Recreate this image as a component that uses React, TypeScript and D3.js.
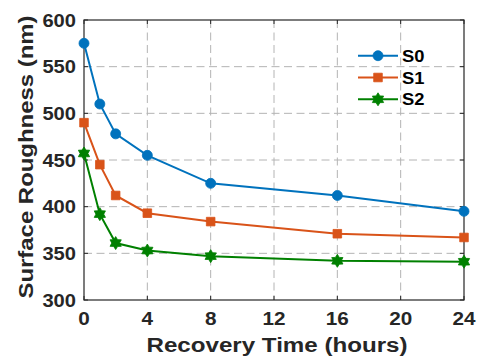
import React, { useEffect, useRef } from 'react';
import * as d3 from 'd3';

const hours = [0, 1, 2, 4, 8, 16, 24];
const s0 = [575, 510, 478, 455, 425, 412, 395];
const s1 = [490, 445, 412, 393, 384, 371, 367];
const s2 = [457, 392, 361, 353, 347, 342, 341];
const seriesNames = ['S0', 'S1', 'S2'];
const xTicks = [0, 4, 8, 12, 16, 20, 24];
const yTicks = [300, 350, 400, 450, 500, 550, 600];

const COLORS = ['#0072BD', '#D95319', '#008000'];
const SHAPES = ['circle', 'square', 'star'];
const FONT = 'Arial, "Liberation Sans", Helvetica, sans-serif';
const WIDEN = 1.15;

function markerPath(shape: string, size: number) {
  if (shape === 'circle') return d3.symbol(d3.symbolCircle, Math.PI * (size / 2) ** 2)()!;
  if (shape === 'square') return d3.symbol(d3.symbolSquare, size * size)()!;
  // six-pointed star (hexagram)
  const pts: [number, number][] = [];
  const R = size / 2, r = R * 0.6;
  for (let i = 0; i < 12; i++) {
    const a = (Math.PI / 6) * i - Math.PI / 2;
    const rr = i % 2 === 0 ? R : r;
    pts.push([rr * Math.cos(a), rr * Math.sin(a)]);
  }
  return 'M' + pts.map(p => p.join(',')).join('L') + 'Z';
}

export default function App() {
  const ref = useRef<SVGGElement>(null);

  useEffect(() => {
    const root = d3.select(ref.current);
    root.selectAll('*').remove();

    const margin = { top: 20, right: 15, bottom: 56, left: 84 };
    const W = 479, H = 356;
    const width = W - margin.left - margin.right;
    const height = H - margin.top - margin.bottom;
    const ink = '#262626';

    // bold text, stretched a little along its baseline like the original render
    const label = (parent: any, tx: number, ty: number, size: number, anchor: string, rot = 0, sx = WIDEN) =>
      parent.append('text')
        .attr('transform', `translate(${tx},${ty})${rot ? ` rotate(${rot})` : ''} scale(${sx},1)`)
        .attr('text-anchor', anchor)
        .style('font-family', FONT).style('font-weight', '700')
        .style('font-size', `${size}px`).style('fill', ink);

    const x = d3.scaleLinear().domain([0, 24]).range([0, width]);
    const y = d3.scaleLinear().domain([300, 600]).range([height, 0]);

    const g = root.append('g').attr('transform', `translate(${margin.left},${margin.top})`);

    // Grid
    g.selectAll('.gx').data(xTicks.slice(1, -1)).enter().append('line')
      .attr('x1', d => x(d)).attr('x2', d => x(d)).attr('y1', 0).attr('y2', height)
      .attr('stroke', '#b4b4b4').attr('stroke-dasharray', '8,4.5');
    g.selectAll('.gy').data(yTicks.slice(1, -1)).enter().append('line')
      .attr('x1', 0).attr('x2', width).attr('y1', d => y(d)).attr('y2', d => y(d))
      .attr('stroke', '#b4b4b4').attr('stroke-dasharray', '8,4.5');

    // Box + inward ticks
    g.append('rect').attr('width', width).attr('height', height)
      .attr('fill', 'none').attr('stroke', ink).attr('stroke-width', 1.2);
    const tl = 4;
    xTicks.forEach(t => {
      g.append('line').attr('x1', x(t)).attr('x2', x(t)).attr('y1', height).attr('y2', height - tl).attr('stroke', ink);
      g.append('line').attr('x1', x(t)).attr('x2', x(t)).attr('y1', 0).attr('y2', tl).attr('stroke', ink);
      label(g, x(t), height + 25, 18, 'middle').text(t);
    });
    yTicks.forEach(t => {
      g.append('line').attr('x1', 0).attr('x2', tl).attr('y1', y(t)).attr('y2', y(t)).attr('stroke', ink);
      g.append('line').attr('x1', width).attr('x2', width - tl).attr('y1', y(t)).attr('y2', y(t)).attr('stroke', ink);
      label(g, -8, y(t) + 6.5, 17.5, 'end').text(t);
    });

    // Axis titles
    label(root, 277, 351.5, 21, 'middle').text('Recovery Time (hours)');
    label(root, 33, 157, 21, 'middle', -90, 1.14).text('Surface Roughness (nm)');

    const allSeries = [s0, s1, s2];
    const line = d3.line<number>().x((_, i) => x(hours[i])).y(d => y(d));
    const sizes = [10, 8.6, 13];

    allSeries.forEach((vals, si) => {
      g.append('path').datum(vals).attr('d', line)
        .attr('fill', 'none').attr('stroke', COLORS[si]).attr('stroke-width', 2);
      g.selectAll(`.m${si}`).data(vals).enter().append('path')
        .attr('d', markerPath(SHAPES[si], sizes[si]))
        .attr('transform', (d, i) => `translate(${x(hours[i])},${y(d)})`)
        .attr('fill', COLORS[si]).attr('stroke', COLORS[si]).attr('stroke-width', 0.8);
    });

    // Legend
    const lg = root.append('g').attr('transform', 'translate(358,55.7)');
    seriesNames.forEach((name, si) => {
      const ly = si * 21.8;
      lg.append('line').attr('x1', 0).attr('x2', 40).attr('y1', ly).attr('y2', ly)
        .attr('stroke', COLORS[si]).attr('stroke-width', 2);
      lg.append('path').attr('d', markerPath(SHAPES[si], sizes[si]))
        .attr('transform', `translate(20,${ly})`).attr('fill', COLORS[si])
        .attr('stroke', COLORS[si]).attr('stroke-width', 0.8);
      label(lg, 44, ly + 6, 17, 'start', 0, 1.08).style('fill', '#000').text(name);
    });
  }, []);

  return (
    <svg width={479} height={356}
      style={{ position: 'absolute', left: 0, top: 0, background: '#fff' }}>
      <g ref={ref} />
    </svg>
  );
}
